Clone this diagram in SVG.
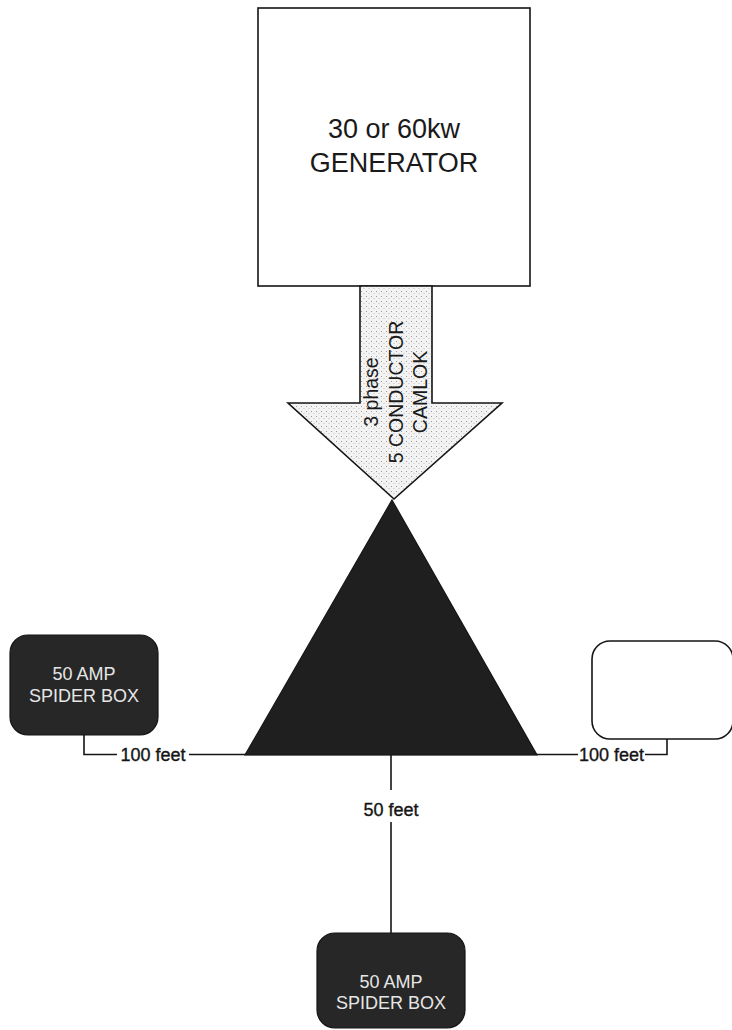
<svg xmlns="http://www.w3.org/2000/svg" width="732" height="1030" viewBox="0 0 732 1030">
  <defs>
    <pattern id="stipple" width="5" height="5" patternUnits="userSpaceOnUse">
      <rect width="5" height="5" fill="#f3f3f3"/>
      <rect x="1" y="1" width="1" height="1" fill="#9a9a9a"/>
      <rect x="3.5" y="3" width="1" height="1" fill="#bdbdbd"/>
    </pattern>
    <style>
      .outline { fill: #ffffff; stroke: #151515; stroke-width: 1.6; }
      .dark { fill: #272727; stroke: #151515; stroke-width: 1.2; }
      .wire { fill: none; stroke: #151515; stroke-width: 1.6; }
      .t { font-family: "Liberation Sans", Arial, sans-serif; text-anchor: middle; }
      .gen { font-size: 27px; fill: #1a1a1a; }
      .arrowtxt { font-size: 19.5px; fill: #1a1a1a; }
      .boxtxt { font-size: 18px; fill: #e6e6e6; }
      .lbl { font-size: 18px; fill: #151515; stroke: #151515; stroke-width: 0.35; }
    </style>
  </defs>
  <rect width="732" height="1030" fill="#ffffff"/>

  <g id="generator">
    <rect class="outline" x="258" y="8" width="272" height="278"/>
    <text class="t gen" x="394" y="138">30 or 60kw</text>
    <text class="t gen" x="394" y="172">GENERATOR</text>
  </g>

  <g id="feed-arrow">
    <polygon points="360,286 432,286 432,403 502,403 394,499 288,403 360,403" fill="url(#stipple)" stroke="#151515" stroke-width="1.6" stroke-linejoin="miter"/>
    <g transform="translate(392,392) rotate(-90)">
      <text class="t arrowtxt" x="0" y="-14">3 phase</text>
      <text class="t arrowtxt" x="0" y="10.5">5 CONDUCTOR</text>
      <text class="t arrowtxt" x="0" y="35">CAMLOK</text>
    </g>
  </g>

  <g id="connectors">
    <polyline class="wire" points="84,735 84,754.5 117,754.5"/>
    <line class="wire" x1="189" y1="754.5" x2="578" y2="754.5"/>
    <polyline class="wire" points="645,754.5 667,754.5 667,739"/>
    <line class="wire" x1="391" y1="755" x2="391" y2="790"/>
    <line class="wire" x1="391" y1="822" x2="391" y2="933"/>
    <text class="t lbl" x="153" y="761">100 feet</text>
    <text class="t lbl" x="611.5" y="761">100 feet</text>
    <text class="t lbl" x="391" y="816">50 feet</text>
  </g>

  <g id="distribution">
    <polygon points="392,500 537,755 245,755" fill="#1f1f1f" stroke="#151515" stroke-width="1.2"/>
  </g>

  <g id="spider-box-left">
    <rect class="dark" x="10" y="635" width="148" height="100" rx="18" ry="18"/>
    <text class="t boxtxt" x="84" y="680">50 AMP</text>
    <text class="t boxtxt" x="84" y="702">SPIDER BOX</text>
  </g>

  <g id="box-right">
    <rect class="outline" x="592" y="641" width="141" height="98" rx="18" ry="18"/>
  </g>

  <g id="spider-box-bottom">
    <rect class="dark" x="317" y="933" width="148" height="95" rx="18" ry="18"/>
    <text class="t boxtxt" x="391" y="988">50 AMP</text>
    <text class="t boxtxt" x="391" y="1009">SPIDER BOX</text>
  </g>
</svg>
